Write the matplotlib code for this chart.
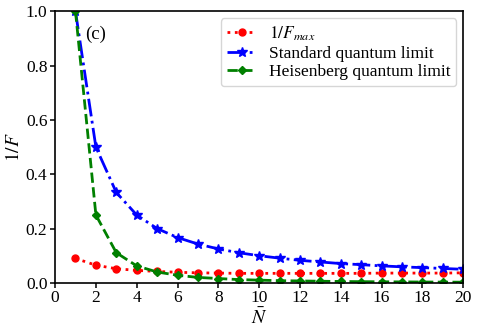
import numpy as np
import matplotlib
matplotlib.use('Agg')
import matplotlib.pyplot as plt

plt.rcParams['font.family'] = ['Liberation Serif', 'DejaVu Serif']
plt.rcParams['mathtext.fontset'] = 'stix'

# data
N = np.arange(1, 21)
inv_fmax = [0.090, 0.065, 0.052, 0.046, 0.042, 0.039, 0.037, 0.036, 0.035, 0.035,
            0.035, 0.035, 0.035, 0.035, 0.035, 0.036, 0.036, 0.036, 0.036, 0.037]
sql = [1.0, 0.5, 0.333, 0.25, 0.2, 0.167, 0.143, 0.125, 0.111, 0.1,
       0.091, 0.083, 0.077, 0.071, 0.067, 0.0625, 0.059, 0.056, 0.053, 0.05]
hql = [1.0, 0.25, 0.111, 0.0625, 0.04, 0.028, 0.020, 0.016, 0.012, 0.010,
       0.008, 0.007, 0.006, 0.005, 0.0044, 0.0039, 0.0035, 0.0031, 0.0028, 0.0025]

fig = plt.figure(figsize=(4.79, 3.27), dpi=100)
ax = fig.add_axes([0.115, 0.135, 0.852, 0.83])

ax.plot(N, inv_fmax, ':', color='red', marker='o', markersize=5, lw=2,
        label=r'$1/F_{max}$')
ax.plot(N, sql, '-.', color='blue', marker='*', markersize=7, lw=2,
        label='Standard quantum limit')
ax.plot(N, hql, '--', color='green', marker='D', markersize=4.5, lw=2,
        label='Heisenberg quantum limit')

ax.set_xlim(0, 20)
ax.set_ylim(0, 1.0)
ax.set_xticks(range(0, 21, 2))
ax.set_yticks([0, 0.2, 0.4, 0.6, 0.8, 1.0])
for s in ax.spines.values():
    s.set_linewidth(1.2)
ax.tick_params(labelsize=12.5, direction='out', length=3.5, width=1.1, pad=2)
ax.set_xlabel(r'$\bar{N}$', fontsize=14, labelpad=1)
ax.set_ylabel(r'$1/F$', fontsize=14, labelpad=2)
ax.text(1.45, 0.9, '(c)', fontsize=13.5)
ax.legend(loc='upper right', fontsize=12.5, handlelength=1.7, labelspacing=0.15,
          handletextpad=0.7, borderaxespad=0.4, borderpad=0.35)

fig.savefig('out.png', dpi=100)
